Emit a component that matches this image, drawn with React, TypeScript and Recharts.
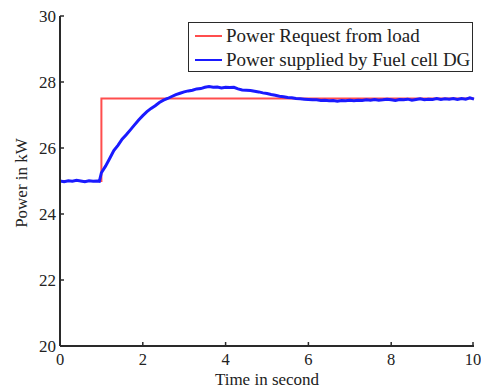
import React from "react"
import { LineChart, Line, XAxis, YAxis } from "recharts"

// time axis (s) and power readings (kW)
const requestTime = [0, 1, 1, 10]
const requestPower = [25, 25, 27.5, 27.5]

const supplyTime = [
  0, 0.1, 0.2, 0.3, 0.4, 0.5, 0.6, 0.7, 0.8, 0.9, 0.95, 1.0,
  1.1, 1.2, 1.3, 1.4, 1.5, 1.6, 1.7, 1.8, 1.9, 2.0,
  2.1, 2.2, 2.3, 2.4, 2.5, 2.6, 2.7, 2.8, 2.9, 3.0,
  3.1, 3.2, 3.3, 3.4, 3.5, 3.6, 3.7, 3.8, 3.9, 4.0,
  4.1, 4.2, 4.3, 4.4, 4.5, 4.6, 4.7, 4.8, 4.9, 5.0,
  5.1, 5.2, 5.3, 5.4, 5.5, 5.6, 5.7, 5.8, 5.9, 6.0,
  6.1, 6.2, 6.3, 6.4, 6.5, 6.6, 6.7, 6.8, 6.9, 7.0,
  7.1, 7.2, 7.3, 7.4, 7.5, 7.6, 7.7, 7.8, 7.9, 8.0,
  8.1, 8.2, 8.3, 8.4, 8.5, 8.6, 8.7, 8.8, 8.9, 9.0,
  9.1, 9.2, 9.3, 9.4, 9.5, 9.6, 9.7, 9.8, 9.9, 10.0,
]
const supplyPower = [
  25.0, 24.98, 25.01, 24.99, 25.02, 25.0, 24.98, 25.01, 24.99, 25.0, 24.99, 25.25,
  25.45, 25.68, 25.92, 26.08, 26.27, 26.4, 26.55, 26.7, 26.85, 26.98,
  27.1, 27.2, 27.28, 27.38, 27.45, 27.5, 27.56, 27.62, 27.66, 27.7,
  27.73, 27.75, 27.79, 27.8, 27.84, 27.86, 27.84, 27.85, 27.82, 27.84,
  27.83, 27.84, 27.79, 27.76, 27.75, 27.74, 27.72, 27.7, 27.67, 27.65,
  27.62, 27.6, 27.57, 27.55, 27.53, 27.52, 27.5, 27.49, 27.48, 27.47,
  27.46, 27.46, 27.44, 27.45, 27.43, 27.44, 27.42, 27.44, 27.43, 27.45,
  27.43, 27.45, 27.44, 27.46, 27.45, 27.47, 27.45, 27.46, 27.48, 27.46,
  27.44, 27.47, 27.46, 27.48, 27.45, 27.47, 27.49, 27.46, 27.48, 27.47,
  27.5, 27.47, 27.49, 27.48, 27.5, 27.47, 27.5, 27.48, 27.52, 27.48,
]

const xTicks = [0, 2, 4, 6, 8, 10]
const yTicks = [20, 22, 24, 26, 28, 30]

const requestData = requestTime.map((t, i) => ({ t, p: requestPower[i] }))
const supplyData = supplyTime.map((t, i) => ({ t, p: supplyPower[i] }))

const FONT = "'Liberation Serif', 'DejaVu Serif', serif"
const AXIS = "#2a2a2a"
const TEXT = "#222"
const TICK_LEN = 4

// MATLAB-style ticks: short marks pointing into the plot, labels outside
const BottomTick = (props: any) => {
  const { x, y, payload } = props
  const axisY = y - 8
  return (
    <g>
      <line x1={x} y1={axisY} x2={x} y2={axisY - TICK_LEN} stroke={AXIS} strokeWidth={1.5} />
      <text x={x} y={y} dy={11} textAnchor="middle" fontSize={16.5} fill={TEXT} fontFamily={FONT}>
        {payload.value}
      </text>
    </g>
  )
}

const LeftTick = (props: any) => {
  const { x, y, payload } = props
  const axisX = x + 4
  return (
    <g>
      <line x1={axisX} y1={y} x2={axisX + TICK_LEN} y2={y} stroke={AXIS} strokeWidth={1.5} />
      <text x={x} y={y} dy={6} textAnchor="end" fontSize={17} fill={TEXT} fontFamily={FONT}>
        {payload.value}
      </text>
    </g>
  )
}

const TopTick = (props: any) => {
  const { x, y } = props
  return <line x1={x} y1={y} x2={x} y2={y + TICK_LEN} stroke={AXIS} strokeWidth={1.5} />
}

const RightTick = (props: any) => {
  const { x, y } = props
  return <line x1={x} y1={y} x2={x - TICK_LEN} y2={y} stroke={AXIS} strokeWidth={1.5} />
}

const legendItems = [
  { label: "Power Request from load", color: "#ff4d4d" },
  { label: "Power supplied by Fuel cell DG", color: "#1a1aff" },
]

export default function App() {
  return (
    <div
      style={{
        position: "absolute",
        left: 0,
        top: 0,
        width: 481,
        height: 388,
        background: "#fff",
        fontFamily: FONT,
      }}
    >
      <LineChart width={481} height={388} margin={{ top: 16, right: 7, bottom: 0, left: 0 }}>
        <XAxis
          xAxisId="bottom"
          dataKey="t"
          type="number"
          domain={[0, 10]}
          ticks={xTicks}
          height={42}
          tickLine={false}
          tickSize={0}
          tickMargin={8}
          tick={<BottomTick />}
          axisLine={{ stroke: AXIS, strokeWidth: 2 }}
          allowDuplicatedCategory={false}
        />
        <XAxis
          xAxisId="top"
          orientation="top"
          dataKey="t"
          type="number"
          domain={[0, 10]}
          ticks={xTicks}
          height={0}
          tickLine={false}
          tickSize={0}
          tickMargin={0}
          tick={<TopTick />}
          axisLine={{ stroke: "#555", strokeWidth: 1.5 }}
        />
        <YAxis
          yAxisId="left"
          type="number"
          domain={[20, 30]}
          ticks={yTicks}
          width={60}
          tickLine={false}
          tickSize={0}
          tickMargin={4}
          tick={<LeftTick />}
          axisLine={{ stroke: AXIS, strokeWidth: 2 }}
        />
        <YAxis
          yAxisId="right"
          orientation="right"
          type="number"
          domain={[20, 30]}
          ticks={yTicks}
          width={0}
          tickLine={false}
          tickSize={0}
          tickMargin={0}
          tick={<RightTick />}
          axisLine={{ stroke: AXIS, strokeWidth: 2 }}
        />
        <Line
          xAxisId="bottom"
          yAxisId="left"
          data={requestData}
          dataKey="p"
          type="linear"
          stroke="#ff4d4d"
          strokeWidth={2}
          dot={false}
          isAnimationActive={false}
        />
        <Line
          xAxisId="bottom"
          yAxisId="left"
          data={supplyData}
          dataKey="p"
          type="linear"
          stroke="#1a1aff"
          strokeWidth={3}
          dot={false}
          isAnimationActive={false}
        />
      </LineChart>

      {/* legend box in the upper right corner of the axes */}
      <div
        style={{
          position: "absolute",
          left: 188,
          top: 22,
          width: 283,
          height: 48,
          border: `1.5px solid ${AXIS}`,
          background: "#fff",
        }}
      >
        {legendItems.map((item, i) => (
          <div
            key={item.label}
            style={{
              position: "absolute",
              left: 6,
              top: 1 + i * 24,
              height: 24,
              display: "flex",
              alignItems: "center",
              whiteSpace: "nowrap",
            }}
          >
            <span style={{ display: "inline-block", width: 27, height: 2, background: item.color }} />
            <span style={{ marginLeft: 4, fontSize: 19, color: TEXT }}>{item.label}</span>
          </div>
        ))}
      </div>

      <div
        style={{
          position: "absolute",
          left: 22,
          top: 183,
          transform: "translate(-50%, -50%) rotate(-90deg)",
          fontSize: 17,
          color: TEXT,
          whiteSpace: "nowrap",
        }}
      >
        Power in kW
      </div>
      <div
        style={{
          position: "absolute",
          left: 267,
          top: 379,
          transform: "translate(-50%, -50%)",
          fontSize: 17,
          lineHeight: "17px",
          color: TEXT,
          whiteSpace: "nowrap",
        }}
      >
        Time in second
      </div>
    </div>
  )
}
